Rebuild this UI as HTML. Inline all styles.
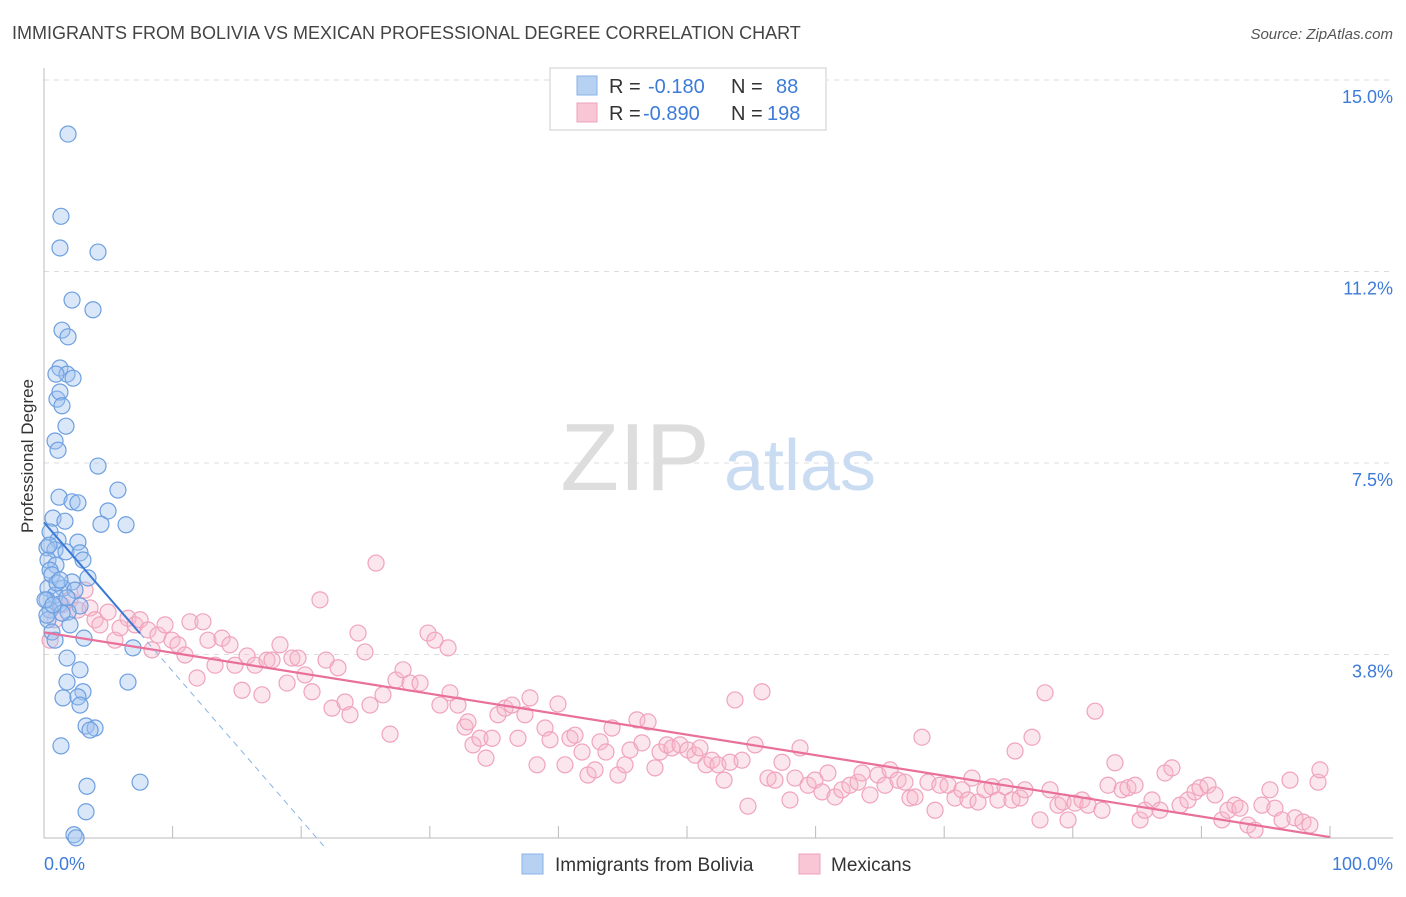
<!DOCTYPE html>
<html><head><meta charset="utf-8"><style>
body{margin:0;background:#fff;font-family:"Liberation Sans",sans-serif;}
svg text{font-family:"Liberation Sans",sans-serif;}
</style></head><body>
<svg id="chart" width="1406" height="892" xmlns="http://www.w3.org/2000/svg">
<text x="12" y="39" font-size="18" fill="#444">IMMIGRANTS FROM BOLIVIA VS MEXICAN PROFESSIONAL DEGREE CORRELATION CHART</text>
<text x="1393" y="39" font-size="15" fill="#555" font-style="italic" text-anchor="end">Source: ZipAtlas.com</text>
<text transform="translate(33,456) rotate(-90)" font-size="17" fill="#333" text-anchor="middle">Professional Degree</text>
<g id="grid"></g>
<g id="watermark">
<text x="635" y="490" font-size="96" fill="#ddd" font-family="Liberation Serif,serif" text-anchor="middle">ZIP</text>
<text x="800" y="490" font-size="72" fill="#c9dcf2" text-anchor="middle">atlas</text>
</g>
<g id="axes"></g>
<g id="pts"></g>
<g id="lines"></g>
<g>
<rect x="550" y="68" width="276" height="62" fill="#fff" stroke="#ddd" stroke-width="1.5"/>
<rect x="577" y="76" width="20" height="19" fill="#b7d1f3" stroke="#8ab2e6"/>
<rect x="577" y="103" width="20" height="19" fill="#f9c6d5" stroke="#eda3bb"/>
<text x="609" y="93" font-size="20" fill="#333">R = </text><text x="648" y="93" font-size="20" fill="#3d7bd9">-0.180</text>
<text x="731" y="93" font-size="20" fill="#333">N =</text><text x="776" y="93" font-size="20" fill="#3d7bd9">88</text>
<text x="609" y="120" font-size="20" fill="#333">R = </text><text x="643" y="120" font-size="20" fill="#3d7bd9">-0.890</text>
<text x="731" y="120" font-size="20" fill="#333">N =</text><text x="767" y="120" font-size="20" fill="#3d7bd9">198</text>
</g>
<g>
<rect x="522" y="854" width="21" height="20" fill="#b7d1f3" stroke="#8ab2e6"/>
<text x="555" y="871" font-size="19" fill="#333">Immigrants from Bolivia</text>
<rect x="799" y="854" width="21" height="20" fill="#f9c6d5" stroke="#eda3bb"/>
<text x="831" y="871" font-size="19" fill="#333">Mexicans</text>
</g>
</svg>
<script>
const yTicks=[15.0,11.25,7.5,3.75];
const yTickLabels=["15.0%","11.2%","7.5%","3.8%"];
const blueX=[1.87,1.32,1.24,4.2,2.18,3.81,1.40,1.87,1.24,1.79,2.26,0.93,1.01,1.24,1.40,1.71,0.86,1.09,4.2,5.75,1.17,2.18,2.64,4.98,0.70,1.63,4.43,6.38,0.47,1.09,2.64,0.23,0.86,1.71,2.8,0.31,3.03,0.93,0.47,3.42,2.18,0.31,1.48,2.41,0.86,0.23,1.24,2.8,0.47,1.87,0.31,2.02,0.62,3.11,0.86,6.92,1.79,2.8,1.79,6.53,3.03,1.48,2.64,2.8,3.27,3.97,3.58,1.32,3.34,7.47,3.27,2.33,2.49,0.23,0.08,0.62,0.39,1.01,1.40,1.79,0.70,1.24];
const blueY=[13.94,12.33,11.71,11.63,10.69,10.50,10.10,9.97,9.36,9.24,9.16,9.24,8.75,8.89,8.62,8.22,7.93,7.75,7.44,6.97,6.83,6.74,6.72,6.56,6.42,6.36,6.30,6.29,6.15,5.99,5.95,5.84,5.80,5.76,5.74,5.60,5.60,5.50,5.40,5.25,5.17,5.05,5.05,5.01,4.91,4.82,4.74,4.70,4.62,4.58,4.43,4.33,4.19,4.07,4.03,3.88,3.68,3.45,3.21,3.21,3.02,2.90,2.92,2.76,2.35,2.31,2.27,1.96,1.17,1.25,0.67,0.22,0.16,4.52,4.82,5.31,5.89,5.15,4.56,4.86,4.72,5.21];
const pinkX=[0.47,0.86,1.40,2.02,2.64,3.19,3.58,3.97,4.35,4.98,5.52,5.91,6.53,7.08,7.47,8.09,8.40,8.86,9.41,9.95,10.42,10.96,11.35,11.90,12.36,12.75,13.30,13.84,14.46,14.85,15.40,15.79,16.41,16.95,17.34,17.73,18.35,18.90,19.28,19.75,20.30,20.84,21.46,21.93,22.40,22.86,23.41,23.79,24.42,24.96,25.35,25.82,26.36,26.91,27.37,27.92,28.46,29.24,29.86,30.40,30.79,31.42,31.57,32.19,32.74,32.97,33.36,33.90,34.37,34.84,35.30,35.85,36.39,36.86,37.40,37.79,38.34,38.96,39.35,39.97,40.51,40.90,41.29,41.84,42.30,42.85,43.24,43.70,44.17,44.63,45.18,45.57,46.11,46.50,46.97,47.51,47.90,48.44,48.83,49.46,50.08,50.62,51.01,51.48,51.94,52.41,52.88,53.34,53.73,54.28,54.74,55.29,55.83,56.30,56.84,57.39,58.01,58.40,58.79,59.41,59.95,60.50,60.96,61.51,62.05,62.67,63.30,63.61,64.23,64.85,65.40,65.79,66.41,66.95,67.34,67.73,68.27,68.74,69.29,69.67,70.30,70.84,71.38,71.85,72.16,72.63,73.17,73.72,74.18,74.73,75.27,75.51,75.90,76.28,76.83,77.45,77.84,78.23,78.85,79.24,79.63,80.17,80.72,81.18,81.73,82.27,82.74,83.28,83.83,84.29,84.84,85.23,85.61,86.16,86.78,87.17,87.71,88.34,88.96,89.50,89.89,90.51,91.06,91.60,92.07,92.61,93.00,93.62,94.17,94.71,95.33,95.72,96.27,96.89,97.28,97.90,98.44,99.07,99.22];
const pinkY=[4.03,4.43,4.72,4.82,4.62,5.01,4.66,4.43,4.33,4.58,4.03,4.27,4.46,4.33,4.43,4.23,3.84,4.13,4.33,4.03,3.94,3.74,4.39,3.29,4.39,4.03,3.54,4.07,3.94,3.54,3.05,3.72,3.54,2.96,3.64,3.64,3.94,3.19,3.68,3.68,3.35,3.02,4.82,3.64,2.70,3.49,2.82,2.57,4.17,3.80,2.76,5.54,2.96,2.19,3.25,3.45,3.19,3.19,4.17,4.03,2.76,3.88,3.00,2.76,2.33,2.43,1.98,2.11,1.72,2.11,2.57,2.70,2.76,2.11,2.57,2.90,1.59,2.31,2.08,2.78,1.59,2.11,2.17,1.84,1.39,1.49,2.04,1.84,2.31,1.39,1.59,1.88,2.47,2.02,2.43,1.53,1.84,1.98,1.92,1.98,1.88,1.78,1.92,1.59,1.68,1.59,1.29,1.64,2.86,1.68,0.78,1.98,3.02,1.33,1.29,1.64,0.90,1.33,1.92,1.19,1.29,1.06,1.43,0.96,1.10,1.19,1.25,1.43,1.00,1.39,1.19,1.49,1.29,1.25,0.94,0.96,2.13,1.25,0.70,1.19,1.19,0.94,1.10,0.90,1.33,0.86,1.10,1.16,0.90,1.16,0.90,1.86,0.94,1.10,2.13,0.51,3.00,1.10,0.80,0.86,0.51,0.84,0.90,0.80,2.64,0.70,1.19,1.63,1.10,1.14,1.19,0.51,0.70,0.90,0.70,1.43,1.53,0.80,0.90,1.06,1.14,1.19,1.00,0.51,0.70,0.80,0.74,0.41,0.31,0.80,1.10,0.74,0.51,1.29,0.55,0.47,0.41,1.25,1.49];

const NS="http://www.w3.org/2000/svg";
const X0=44,X1=1330,Y0=846,PXPER=51.07;
function sx(v){return X0+v/100*(X1-X0);}
function sy(v){return Y0-v*PXPER;}
function mk(tag,attrs,parent){const e=document.createElementNS(NS,tag);for(const k in attrs)e.setAttribute(k,attrs[k]);parent.appendChild(e);return e;}

const grid=document.getElementById('grid');
yTicks.forEach((t,i)=>{
  const l=mk('line',{x1:X0,x2:1393,y1:sy(t),y2:sy(t),stroke:'#ddd','stroke-dasharray':'5,5'},grid);
  
  
  const tx=mk('text',{x:1393,y:sy(t)+23,'font-size':18,fill:'#3d7bd9','text-anchor':'end'},grid);
  tx.textContent=yTickLabels[i];
  
  
});
const axes=document.getElementById('axes');
mk('line',{x1:X0,x2:X0,y1:68,y2:838,stroke:'#bbb'},axes);
mk('line',{x1:X0,x2:1393,y1:838,y2:838,stroke:'#bbb'},axes);
for(let i=0;i<=10;i++){
  const t=mk('line',{x1:sx(i*10),x2:sx(i*10),y1:826,y2:838,stroke:'#bbb'},axes);
  
  
}
const xl0=mk('text',{x:44,y:870,'font-size':18,fill:'#3d7bd9'},axes);xl0.textContent='0.0%';


const xl1=mk('text',{x:1393,y:870,'font-size':18,fill:'#3d7bd9','text-anchor':'end'},axes);xl1.textContent='100.0%';



const pts=document.getElementById('pts');
pinkX.forEach((x,i)=>{
  const c=mk('circle',{cx:sx(x),cy:sy(pinkY[i]),r:8,fill:'rgba(246,182,202,0.35)',stroke:'#f0a3bc','stroke-width':1.2},pts);
  
  
});
blueX.forEach((x,i)=>{
  const c=mk('circle',{cx:sx(x),cy:sy(blueY[i]),r:8,fill:'rgba(160,196,240,0.4)',stroke:'#6d9fe0','stroke-width':1.2},pts);
  
  
});
function fit(xs,ys){const n=xs.length;let mx=0,my=0;for(let i=0;i<n;i++){mx+=xs[i];my+=ys[i];}mx/=n;my/=n;let a=0,b=0;for(let i=0;i<n;i++){a+=(xs[i]-mx)*(ys[i]-my);b+=(xs[i]-mx)**2;}const s=a/b;return[s,my-s*mx];}
const lines=document.getElementById('lines');
const [ps,pi]=fit(pinkX,pinkY);
const pl=mk('line',{x1:sx(0),y1:sy(pi),x2:sx(100),y2:sy(pi+ps*100),stroke:'#e8709a','stroke-width':2.2},lines);


const [bs,bi]=fit(blueX,blueY);
const bmax=Math.max(...blueX);
const bl=mk('line',{x1:sx(0),y1:sy(bi),x2:sx(bmax),y2:sy(bi+bs*bmax),stroke:'#3a78d6','stroke-width':2},lines);


const xz=bs<0?Math.min(-bi/bs,100):100;
const bd=mk('line',{x1:sx(bmax),y1:sy(bi+bs*bmax),x2:sx(xz),y2:sy(bi+bs*xz),stroke:'#8ab2e6','stroke-width':1,'stroke-dasharray':'6,5'},lines);


</script>
</body></html>
